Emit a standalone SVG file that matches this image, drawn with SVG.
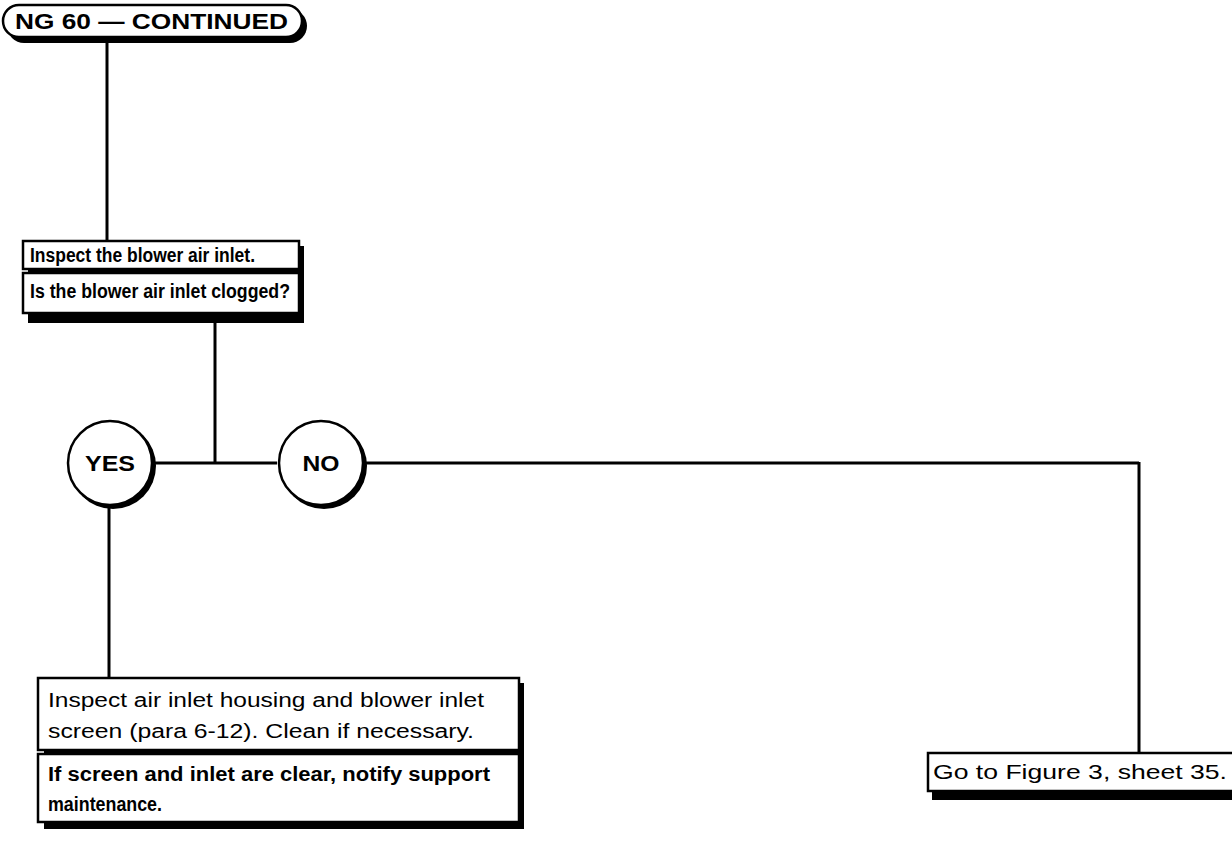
<svg xmlns="http://www.w3.org/2000/svg" width="1232" height="842" viewBox="0 0 1232 842">
<style>
.ln{stroke:#000;stroke-width:3;fill:none}
.bx{stroke:#000;stroke-width:2.5;fill:#fff}
.sh{fill:#000}
.b{font-family:"Liberation Sans",Arial,sans-serif;font-weight:bold;fill:#000}
.r{font-family:"Liberation Sans",Arial,sans-serif;fill:#000}
</style>
<rect width="1232" height="842" fill="#fff"/>
<g id="connectors">
<line class="ln" x1="107" y1="38" x2="107" y2="241"/>
<line class="ln" x1="215" y1="322" x2="215" y2="463"/>
<line class="ln" x1="153" y1="463" x2="277" y2="463"/>
<line class="ln" x1="365" y1="463" x2="1139" y2="463"/>
<line class="ln" x1="1139" y1="462" x2="1139" y2="753"/>
<line class="ln" x1="109" y1="506" x2="109" y2="678"/>
</g>
<g id="start">
<rect class="sh" x="7" y="9" width="300" height="34" rx="17"/>
<rect class="bx" x="3" y="5" width="299" height="32" rx="16"/>
<text class="b" x="15" y="29" font-size="22" textLength="273" lengthAdjust="spacingAndGlyphs">NG 60 — CONTINUED</text>
</g>
<g id="q1">
<rect class="sh" x="28" y="246" width="276" height="77"/>
<rect class="bx" x="23" y="241" width="276" height="28"/>
<rect class="bx" x="23" y="273" width="276" height="40"/>
<text class="b" x="30" y="262" font-size="20" textLength="225" lengthAdjust="spacingAndGlyphs">Inspect the blower air inlet.</text>
<text class="b" x="30" y="298" font-size="20" textLength="260" lengthAdjust="spacingAndGlyphs">Is the blower air inlet clogged?</text>
</g>
<g id="yes">
<circle class="sh" cx="113" cy="466" r="43"/>
<circle class="bx" cx="110" cy="463" r="42"/>
<text class="b" x="110" y="471" font-size="22" text-anchor="middle" textLength="50" lengthAdjust="spacingAndGlyphs">YES</text>
</g>
<g id="no">
<circle class="sh" cx="324" cy="466" r="43"/>
<circle class="bx" cx="321" cy="463" r="42"/>
<text class="b" x="321" y="471" font-size="22" text-anchor="middle" textLength="37" lengthAdjust="spacingAndGlyphs">NO</text>
</g>
<g id="a1">
<rect class="sh" x="44" y="683" width="480" height="146"/>
<rect class="bx" x="38" y="678" width="481" height="72"/>
<rect class="bx" x="38" y="754" width="481" height="68"/>
<text class="r" x="48" y="707" font-size="20" textLength="436" lengthAdjust="spacingAndGlyphs">Inspect air inlet housing and blower inlet</text>
<text class="r" x="48" y="738" font-size="20" textLength="426" lengthAdjust="spacingAndGlyphs">screen (para 6-12). Clean if necessary.</text>
<text class="b" x="48" y="781" font-size="20" textLength="442" lengthAdjust="spacingAndGlyphs">If screen and inlet are clear, notify support</text>
<text class="b" x="48" y="811" font-size="20" textLength="114" lengthAdjust="spacingAndGlyphs">maintenance.</text>
</g>
<g id="a2">
<rect class="sh" x="932" y="756" width="302" height="44"/>
<rect class="bx" x="928" y="753" width="306" height="38"/>
<text class="r" x="933" y="779" font-size="21" textLength="294" lengthAdjust="spacingAndGlyphs">Go to Figure 3, sheet 35.</text>
</g>
</svg>
